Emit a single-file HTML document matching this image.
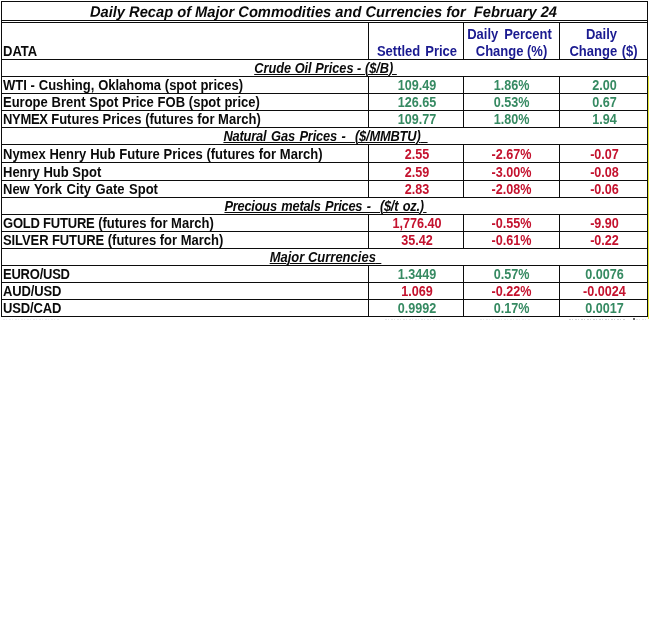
<!DOCTYPE html>
<html><head><meta charset="utf-8"><title>Daily Recap</title>
<style>
html,body{margin:0;padding:0;background:#fff;}
body{width:649px;height:632px;position:relative;overflow:hidden;font-family:"Liberation Sans",sans-serif;font-weight:bold;font-size:14px;color:#0a0a0a;}
#w{position:absolute;left:0;top:0;width:649px;height:632px;will-change:transform;}
.h{position:absolute;height:1px;background:#0c0c0c;}
.v{position:absolute;width:1px;background:#0c0c0c;}
.t{position:absolute;white-space:nowrap;line-height:17px;height:17px;transform:scaleX(.9286);transform-origin:0 50%;}
.c{text-align:center;transform-origin:50% 50%;}
.sec{font-style:italic;text-decoration:underline;text-decoration-thickness:1px;text-underline-offset:1px;}
.g{color:#368a62}.r{color:#c4122e}.b{color:#1a1a90}
.n{transform:scaleX(.9);}
</style></head><body><div id="w">

<div class="h" style="left:1px;top:1px;width:647px"></div>
<div class="h" style="left:1px;top:20px;width:647px"></div>
<div class="h" style="left:1px;top:22px;width:647px"></div>
<div class="h" style="left:1px;top:59px;width:647px"></div>
<div class="v" style="left:1px;top:1px;height:316px"></div>
<div class="v" style="left:647px;top:1px;height:316px"></div>
<div class="v" style="left:368px;top:22px;height:38px"></div>
<div class="v" style="left:463px;top:22px;height:38px"></div>
<div class="v" style="left:559px;top:22px;height:38px"></div>
<div class="t c" style="left:1px;top:3px;width:647px;font-size:15.36px;font-style:italic;margin-left:-1px;transform:scale(.955,1) rotate(.03deg)">Daily Recap of Major Commodities and Currencies for&nbsp; February 24</div>
<div class="t" style="left:3px;top:43px;">DATA</div>
<div class="t c b" style="left:369px;top:43px;width:94px;word-spacing:1.5px;margin-left:.5px">Settled Price</div>
<div class="t c b" style="left:464px;top:26px;width:95px;word-spacing:2.5px;margin-left:-1.6px">Daily Percent</div>
<div class="t c b" style="left:464px;top:43px;width:95px;">Change (%)</div>
<div class="t c b" style="left:560px;top:26px;width:87px;margin-left:-2px">Daily</div>
<div class="t c b" style="left:560px;top:43px;width:87px;word-spacing:1px;">Change ($)</div>
<div class="h" style="left:1px;top:76px;width:647px"></div>
<div class="t c sec" style="left:1px;top:60px;width:647px;transform:scaleX(.912);margin-left:1px;">Crude Oil Prices - ($/B)&nbsp;</div>
<div class="h" style="left:1px;top:93px;width:647px"></div>
<div class="v" style="left:368px;top:76px;height:18px"></div>
<div class="v" style="left:463px;top:76px;height:18px"></div>
<div class="v" style="left:559px;top:76px;height:18px"></div>
<div class="t" style="left:2.8px;top:77px;"><span style="word-spacing:.2px">WTI - Cushing, Oklahoma (spot prices)</span></div>
<div class="t c n g" style="left:369.5px;top:77px;width:94px;">109.49</div>
<div class="t c n g" style="left:464px;top:77px;width:95px;">1.86%</div>
<div class="t c n g" style="left:561px;top:77px;width:87px;">2.00</div>
<div class="h" style="left:1px;top:110px;width:647px"></div>
<div class="v" style="left:368px;top:93px;height:18px"></div>
<div class="v" style="left:463px;top:93px;height:18px"></div>
<div class="v" style="left:559px;top:93px;height:18px"></div>
<div class="t" style="left:2.8px;top:94px;"><span style="word-spacing:.2px">Europe Brent Spot Price FOB (spot price)</span></div>
<div class="t c n g" style="left:369.5px;top:94px;width:94px;">126.65</div>
<div class="t c n g" style="left:464px;top:94px;width:95px;">0.53%</div>
<div class="t c n g" style="left:561px;top:94px;width:87px;">0.67</div>
<div class="h" style="left:1px;top:127px;width:647px"></div>
<div class="v" style="left:368px;top:110px;height:18px"></div>
<div class="v" style="left:463px;top:110px;height:18px"></div>
<div class="v" style="left:559px;top:110px;height:18px"></div>
<div class="t" style="left:2.8px;top:111px;"><span style="letter-spacing:-.35px">NYMEX</span> Futures Prices (futures for March)</div>
<div class="t c n g" style="left:369.5px;top:111px;width:94px;">109.77</div>
<div class="t c n g" style="left:464px;top:111px;width:95px;">1.80%</div>
<div class="t c n g" style="left:561px;top:111px;width:87px;">1.94</div>
<div class="h" style="left:1px;top:144px;width:647px"></div>
<div class="t c sec" style="left:1px;top:128px;width:647px;transform:scaleX(.92);margin-left:.8px;"><span style="letter-spacing:-.2px;word-spacing:1.3px">Natural Gas Prices -&nbsp; ($/MMBTU)</span><span style="word-spacing:3.8px">&nbsp;</span></div>
<div class="h" style="left:1px;top:162px;width:647px"></div>
<div class="v" style="left:368px;top:144px;height:19px"></div>
<div class="v" style="left:463px;top:144px;height:19px"></div>
<div class="v" style="left:559px;top:144px;height:19px"></div>
<div class="t" style="left:2.8px;top:146px;"><span style="word-spacing:.25px">Nymex Henry Hub Future Prices (futures for March)</span></div>
<div class="t c n r" style="left:369.5px;top:146px;width:94px;">2.55</div>
<div class="t c n r" style="left:464px;top:146px;width:95px;">-2.67%</div>
<div class="t c n r" style="left:561px;top:146px;width:87px;">-0.07</div>
<div class="h" style="left:1px;top:180px;width:647px"></div>
<div class="v" style="left:368px;top:162px;height:19px"></div>
<div class="v" style="left:463px;top:162px;height:19px"></div>
<div class="v" style="left:559px;top:162px;height:19px"></div>
<div class="t" style="left:2.8px;top:164px;">Henry Hub Spot</div>
<div class="t c n r" style="left:369.5px;top:164px;width:94px;">2.59</div>
<div class="t c n r" style="left:464px;top:164px;width:95px;">-3.00%</div>
<div class="t c n r" style="left:561px;top:164px;width:87px;">-0.08</div>
<div class="h" style="left:1px;top:197px;width:647px"></div>
<div class="v" style="left:368px;top:180px;height:18px"></div>
<div class="v" style="left:463px;top:180px;height:18px"></div>
<div class="v" style="left:559px;top:180px;height:18px"></div>
<div class="t" style="left:2.8px;top:181px;"><span style="word-spacing:1px">New York City Gate Spot</span></div>
<div class="t c n r" style="left:369.5px;top:181px;width:94px;">2.83</div>
<div class="t c n r" style="left:464px;top:181px;width:95px;">-2.08%</div>
<div class="t c n r" style="left:561px;top:181px;width:87px;">-0.06</div>
<div class="h" style="left:1px;top:214px;width:647px"></div>
<div class="t c sec" style="left:1px;top:198px;width:647px;transform:scaleX(.9163);margin-left:1px;"><span style="letter-spacing:-.25px;word-spacing:1.3px">Precious metals Prices -&nbsp; ($/t oz.)</span><span style="word-spacing:-1px">&nbsp;</span></div>
<div class="h" style="left:1px;top:231px;width:647px"></div>
<div class="v" style="left:368px;top:214px;height:18px"></div>
<div class="v" style="left:463px;top:214px;height:18px"></div>
<div class="v" style="left:559px;top:214px;height:18px"></div>
<div class="t" style="left:2.8px;top:215px;"><span style="letter-spacing:-.23px">GOLD FUTURE</span> (futures for March)</div>
<div class="t c n r" style="left:369.5px;top:215px;width:94px;">1,776.40</div>
<div class="t c n r" style="left:464px;top:215px;width:95px;">-0.55%</div>
<div class="t c n r" style="left:561px;top:215px;width:87px;">-9.90</div>
<div class="h" style="left:1px;top:248px;width:647px"></div>
<div class="v" style="left:368px;top:231px;height:18px"></div>
<div class="v" style="left:463px;top:231px;height:18px"></div>
<div class="v" style="left:559px;top:231px;height:18px"></div>
<div class="t" style="left:2.8px;top:232px;"><span style="letter-spacing:-.1px">SILVER FUTURE</span> (futures for March)</div>
<div class="t c n r" style="left:369.5px;top:232px;width:94px;">35.42</div>
<div class="t c n r" style="left:464px;top:232px;width:95px;">-0.61%</div>
<div class="t c n r" style="left:561px;top:232px;width:87px;">-0.22</div>
<div class="h" style="left:1px;top:265px;width:647px"></div>
<div class="t c sec" style="left:1px;top:249px;width:647px;margin-left:1px;">Major Currencies<span style="word-spacing:2px">&nbsp;</span></div>
<div class="h" style="left:1px;top:282px;width:647px"></div>
<div class="v" style="left:368px;top:265px;height:18px"></div>
<div class="v" style="left:463px;top:265px;height:18px"></div>
<div class="v" style="left:559px;top:265px;height:18px"></div>
<div class="t" style="left:2.8px;top:266px;"><span style="letter-spacing:-.25px">EURO/USD</span></div>
<div class="t c n g" style="left:369.5px;top:266px;width:94px;">1.3449</div>
<div class="t c n g" style="left:464px;top:266px;width:95px;">0.57%</div>
<div class="t c n g" style="left:561px;top:266px;width:87px;">0.0076</div>
<div class="h" style="left:1px;top:299px;width:647px"></div>
<div class="v" style="left:368px;top:282px;height:18px"></div>
<div class="v" style="left:463px;top:282px;height:18px"></div>
<div class="v" style="left:559px;top:282px;height:18px"></div>
<div class="t" style="left:2.8px;top:283px;"><span style="letter-spacing:-.13px">AUD/USD</span></div>
<div class="t c n r" style="left:369.5px;top:283px;width:94px;">1.069</div>
<div class="t c n r" style="left:464px;top:283px;width:95px;">-0.22%</div>
<div class="t c n r" style="left:561px;top:283px;width:87px;">-0.0024</div>
<div class="h" style="left:1px;top:316px;width:647px"></div>
<div class="v" style="left:368px;top:299px;height:18px"></div>
<div class="v" style="left:463px;top:299px;height:18px"></div>
<div class="v" style="left:559px;top:299px;height:18px"></div>
<div class="t" style="left:2.8px;top:300px;"><span style="letter-spacing:-.13px">USD/CAD</span></div>
<div class="t c n g" style="left:369.5px;top:300px;width:94px;">0.9992</div>
<div class="t c n g" style="left:464px;top:300px;width:95px;">0.17%</div>
<div class="t c n g" style="left:561px;top:300px;width:87px;">0.0017</div>
<div style="position:absolute;left:648px;top:76px;width:1px;height:243px;background:#e8e83a"></div>
<div style="position:absolute;left:3px;top:319px;width:57px;height:1px;background:repeating-linear-gradient(90deg,#ececf2 0 2px,transparent 2px 3px,#ececf2 3px 4px,transparent 4px 6px)"></div>
<div style="position:absolute;left:385px;top:319px;width:55px;height:1px;background:repeating-linear-gradient(90deg,#e4e4e8 0 2px,transparent 2px 3px,#e4e4e8 3px 4px,transparent 4px 6px)"></div>
<div style="position:absolute;left:480px;top:319px;width:50px;height:1px;background:repeating-linear-gradient(90deg,#ececec 0 2px,transparent 2px 3px,#ececec 3px 4px,transparent 4px 6px)"></div>
<div style="position:absolute;left:569px;top:319px;width:57px;height:1px;background:repeating-linear-gradient(90deg,#d2d2d6 0 2px,transparent 2px 3px,#d2d2d6 3px 4px,transparent 4px 6px)"></div>
<div style="position:absolute;left:636px;top:319px;width:10px;height:1px;background:repeating-linear-gradient(90deg,#e4e4e4 0 2px,transparent 2px 3px,#e4e4e4 3px 4px,transparent 4px 6px)"></div>
<div style="position:absolute;left:633px;top:318px;width:2px;height:2px;background:#666"></div>
</div></body></html>
